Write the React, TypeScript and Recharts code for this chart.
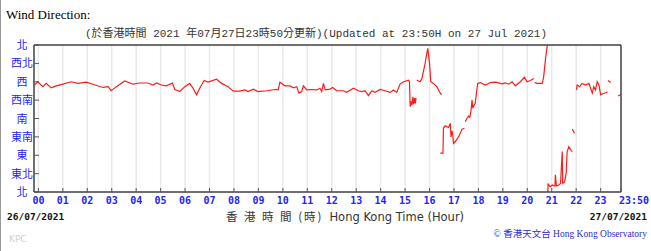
import React from 'react';
import { LineChart, Line, XAxis, YAxis, CartesianGrid, ReferenceLine } from 'recharts';

// hour of day (HKT) and wind direction in degrees; null breaks the trace
const times = [
  -0.16, -0.02, 0.18, 0.32, 0.52, 0.73, 1.0, 1.34, 1.62, 1.96, 2.23, 2.64, 2.85, 2.98, 3.19, 3.53,
  3.87, 4.14, 4.48, 4.69, 4.83, 5.03, 5.24, 5.48, 5.58, 5.71, 5.78, 5.99, 6.19, 6.33, 6.47, 6.6,
  6.78, 6.94, 7.29, 7.49, 7.76, 7.97, 8.24, 8.45, 8.58, 8.79, 8.99, 9.34, 9.68, 9.81, 9.88, 10.09,
  10.29, 10.43, 10.57, 10.66, 10.77, 10.84, 10.98, 11.18, 11.39, 11.52, 11.59, 11.66, 11.73, 11.93,
  12.04, 12.2, 12.48, 12.61, 12.89, 13.09, 13.23, 13.36, 13.5, 13.64, 13.77, 13.98, 14.18, 14.39,
  14.52, 14.66, 14.8, 14.94, 15.14, 15.18, 15.21, 15.25, 15.28, 15.32, 15.35, 15.39, 15.42, 15.45,
  15.46,
  15.48, 15.55, 15.62, 15.69, 15.82, 15.89, 15.93, 16.0, 16.05, 16.16, 16.3, 16.44, 16.5,
  16.5,
  16.44, 16.55, 16.57, 16.64, 16.72, 16.78, 16.85, 16.88, 16.92, 16.95, 16.98, 17.05, 17.19, 17.33, 17.43,
  17.44,
  17.46, 17.53, 17.6, 17.65, 17.7, 17.74, 17.77, 17.8, 17.87, 17.97, 18.08, 18.28, 18.49, 18.7, 18.97,
  19.1, 19.24, 19.38, 19.51, 19.72, 19.88, 19.99, 20.13, 20.27,
  20.28,
  20.3, 20.4, 20.61, 20.67, 20.74, 20.81, 20.84,
  20.84,
  20.84, 20.85, 20.88, 20.95, 21.02, 21.08, 21.13, 21.15, 21.19, 21.29, 21.36, 21.43, 21.45, 21.53,
  21.59, 21.63, 21.7, 21.77, 21.84,
  21.84,
  21.84, 21.93,
  21.97,
  22.01, 22.04, 22.14, 22.24, 22.38, 22.52, 22.66, 22.72, 22.79, 22.86, 22.93, 23.0, 23.06, 23.2, 23.28,
  23.29,
  23.3, 23.41,
  23.5,
  23.71, 23.83,
];

const degrees: (number | null)[] = [
  262, 270, 258, 266, 255, 260, 264, 270, 266, 269, 264, 256, 258, 248, 258, 272,
  264, 267, 267, 262, 267, 262, 260, 267, 251, 248, 246, 258, 266, 254, 238, 254,
  273, 269, 276, 266, 258, 247, 247, 250, 246, 252, 246, 248, 251, 250, 269, 260,
  260, 255, 258, 242, 246, 260, 250, 251, 250, 254, 246, 266, 250, 252,
  256, 248, 248, 244, 254, 248, 246, 248, 236, 248, 244, 251, 248, 244,
  250, 244, 265, 270, 274, 270, 209, 222, 213, 233, 215, 230, 217, 230,
  null,
  274, 272, 270, 278, 315, 340, 352, 315, 270, 266, 258, 242, 238,
  null,
  95, 95, 156, 162, 160, 158, 168, 135, 150, 140, 119, 123, 135, 154, 156,
  null,
  172, 180, 186, 183, 201, 225, 205, 210, 217, 266, 268, 262, 268, 269, 265,
  267, 264, 270, 260, 270, 281, 270, 273, 278,
  null,
  268, 266, 266, 282, 323, 356, 360,
  null,
  0, 21, 17, 13, 17, 15, 15, 42, 15, 17, 21, 99, 21, 25,
  46, 99, 111, 104, 99,
  null,
  154, 144,
  null,
  250, 262, 258, 266, 262, 266, 242, 258, 250, 270, 262, 238, 240, 243, 245,
  null,
  273, 268,
  null,
  235, 239,
];

const hourTicks = [0, 1, 2, 3, 4, 5, 6, 7, 8, 9, 10, 11, 12, 13, 14, 15, 16, 17, 18, 19, 20, 21, 22, 23, 23 + 50 / 60];
const hourLabels = ['00', '01', '02', '03', '04', '05', '06', '07', '08', '09', '10', '11', '12', '13', '14', '15', '16', '17', '18', '19', '20', '21', '22', '23', '23:50'];
const dirTicks = [0, 45, 90, 135, 180, 225, 270, 315, 360];
const chineseLabels = ['北', '東北', '東', '東南', '南', '西南', '西', '西北', '北'];
const englishLabels = ['N', 'NE', 'E', 'SE', 'S', 'SW', 'W', 'NW', 'N'];

const data = times.map((t, i) => ({ t, deg: degrees[i] }));

const BLUE = '#2424f2';
const MONO = "'DejaVu Sans Mono', monospace";

const LeftTick = (props: any) => {
  const { x, y, payload } = props;
  const label = chineseLabels[dirTicks.indexOf(payload.value)];
  return (
    <g>
      <line x1={x} x2={x + 5} y1={y} y2={y} stroke="#555" />
      <text x={x - 12} y={y} dy={4} textAnchor="middle" fontSize={11} fill={BLUE} fontFamily="'Noto Sans CJK TC'">
        {label}
      </text>
    </g>
  );
};

const RightTick = (props: any) => {
  const { x, y, payload } = props;
  const label = englishLabels[dirTicks.indexOf(payload.value)];
  return (
    <g>
      <line x1={x - 5} x2={x} y1={y} y2={y} stroke="#555" />
      <text x={x + 3} y={y} dy={4} textAnchor="start" fontSize={10} fontWeight="bold" fill={BLUE} fontFamily={MONO}>
        {label}
      </text>
    </g>
  );
};

const BottomTick = (props: any) => {
  const { x, y, payload, index } = props;
  const last = index === hourTicks.length - 1;
  return (
    <g>
      <line x1={x} x2={x} y1={y - 4} y2={y} stroke="#555" />
      <text x={last ? x - 2 : x} y={y + 12} textAnchor={last ? 'start' : 'middle'} fontSize={10} fontWeight="bold" fill={BLUE} fontFamily={MONO}>
        {hourLabels[hourTicks.indexOf(payload.value)]}
      </text>
    </g>
  );
};

export default function App() {
  return (
    <div style={{ position: 'absolute', left: 0, top: 0, width: 651, height: 251, background: '#fff' }}>
      <LineChart width={651} height={251} data={data} margin={{ top: 45, right: 0, bottom: 0, left: 0 }}>
        <CartesianGrid stroke="#e9e9e9" strokeWidth={1.5} />
        <XAxis
          dataKey="t"
          type="number"
          domain={[-0.18, 23 + 50 / 60]}
          ticks={hourTicks}
          interval={0}
          allowDataOverflow
          height={59}
          tickSize={0}
          tickMargin={0}
          tickLine={false}
          axisLine={{ stroke: '#444', strokeWidth: 1.5 }}
          tick={<BottomTick />}
        />
        <YAxis
          yAxisId="l"
          type="number"
          domain={[0, 360]}
          ticks={dirTicks}
          interval={0}
          width={34}
          tickSize={0}
          tickMargin={0}
          tickLine={false}
          axisLine={{ stroke: '#444', strokeWidth: 1.5 }}
          tick={<LeftTick />}
        />
        <YAxis
          yAxisId="r"
          orientation="right"
          type="number"
          domain={[0, 360]}
          ticks={dirTicks}
          interval={0}
          width={30}
          tickSize={0}
          tickMargin={0}
          tickLine={false}
          axisLine={{ stroke: '#444', strokeWidth: 1.5 }}
          tick={<RightTick />}
        />
        <ReferenceLine yAxisId="l" y={360} stroke="#444" strokeWidth={1.5} />
        <Line
          yAxisId="l"
          dataKey="deg"
          type="linear"
          stroke="#ff1a1a"
          strokeWidth={1.2}
          dot={false}
          connectNulls={false}
          isAnimationActive={false}
        />
      </LineChart>
      <svg width={651} height={251} style={{ position: 'absolute', left: 0, top: 0, pointerEvents: 'none' }}>
        <line x1={0.5} x2={0.5} y1={0} y2={251} stroke="#999" />
        <text x={6} y={19} fontSize={13} fontFamily="'Liberation Serif', serif" fill="#000">
          Wind Direction:
        </text>
        <text x={316} y={37} textAnchor="middle" fontSize={11} fontFamily="'Liberation Mono', 'Noto Sans CJK TC', monospace" fill="#333">
          (於香港時間 2021 年07月27日23時50分更新)(Updated at 23:50H on 27 Jul 2021)
        </text>
        <text x={7} y={220} fontSize={9.5} fontWeight="bold" fontFamily={MONO} fill="#111">
          26/07/2021
        </text>
        <text x={345} y={221} textAnchor="middle" fontSize={11.5} fill="#333">
          <tspan fontFamily="'Noto Sans CJK TC'" letterSpacing={2}>香 港 時 間 (時)</tspan>
          <tspan fontFamily="'DejaVu Sans', sans-serif" dx={6}>Hong Kong Time (Hour)</tspan>
        </text>
        <text x={647} y={220} textAnchor="end" fontSize={9.5} fontWeight="bold" fontFamily={MONO} fill="#111">
          27/07/2021
        </text>
        <text x={9} y={242} fontSize={9} fontFamily="'DejaVu Sans', sans-serif" fill="#cfcfcf">
          KPC
        </text>
        <text x={647} y={237} textAnchor="end" fontSize={9.5} fontFamily="'Liberation Serif', serif" fill="#2b2bd0">
          © <tspan fontFamily="'Noto Sans CJK TC'">香港天文台</tspan> Hong Kong Observatory
        </text>
      </svg>
    </div>
  );
}
